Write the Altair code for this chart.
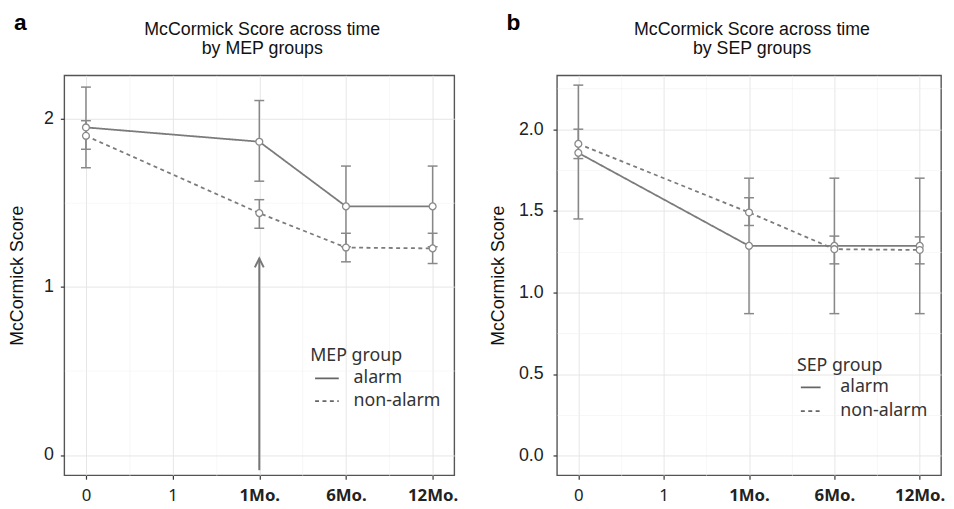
import json
import altair as alt
import pandas as pd

# ---------------- data ----------------
time_labels = ["0", "1", "1Mo.", "6Mo.", "12Mo."]
measured_times = ["0", "1Mo.", "6Mo.", "12Mo."]
groups = ["alarm", "non-alarm"]

# Panel a: MEP groups
mep_alarm_mean = [1.95, 1.865, 1.48, 1.48]
mep_alarm_lo = [1.71, 1.63, 1.24, 1.24]
mep_alarm_hi = [2.19, 2.11, 1.72, 1.72]
mep_non_mean = [1.90, 1.44, 1.235, 1.23]
mep_non_lo = [1.82, 1.35, 1.15, 1.14]
mep_non_hi = [1.99, 1.52, 1.32, 1.32]

# Panel b: SEP groups
sep_alarm_mean = [1.855, 1.285, 1.285, 1.285]
sep_alarm_lo = [1.45, 0.87, 0.87, 0.87]
sep_alarm_hi = [2.27, 1.70, 1.70, 1.70]
sep_non_mean = [1.91, 1.49, 1.265, 1.26]
sep_non_lo = [1.82, 1.41, 1.175, 1.175]
sep_non_hi = [2.00, 1.58, 1.345, 1.34]

# Arrow annotation in panel a
arrow_time = ["1Mo."]
arrow_from = [-0.09]
arrow_to = [1.17]

mep_y_major = [0, 1, 2]
mep_y_minor = [0.5, 1.5]
sep_y_major = [0.0, 0.5, 1.0, 1.5, 2.0]
sep_y_minor = [0.25, 0.75, 1.25, 1.75, 2.25]

# ---------------- helpers ----------------
LINE_COLOR = "#7b7b7b"
BAR_COLOR = "#888888"
SANS = "Liberation Sans"
KFONT = "Noto Sans"


def build_df(alarm, non):
    rows = []
    for g, (m, lo, hi) in zip(groups, [alarm, non]):
        for t, mv, lv, hv in zip(measured_times, m, lo, hi):
            rows.append({"idx": time_labels.index(t), "time": t, "group": g,
                         "mean": mv, "lo": lv, "hi": hv})
    return pd.DataFrame(rows)


def x_axis():
    n = len(time_labels)
    majors = list(range(n))
    minors = [i + 0.5 for i in range(n - 1)]
    bold_idx = [i for i, t in enumerate(time_labels) if "Mo." in t]
    minor_test = f"indexof({json.dumps(minors)}, datum.value) >= 0"
    return alt.Axis(
        values=sorted(majors + minors), title=None, domain=False, grid=True,
        labelExpr=f"{minor_test} ? '' : {json.dumps(time_labels)}[datum.value]",
        labelFont=KFONT, labelFontSize=17, labelColor="#222",
        labelFontWeight={"condition": {"test": f"indexof({json.dumps(bold_idx)}, datum.value) >= 0",
                                       "value": "bold"}, "value": "normal"},
        labelOverlap=False, labelFlush=False, labelPadding=9,
        tickSize=4, tickWidth=1.2,
        tickColor={"condition": {"test": minor_test, "value": "transparent"}, "value": "#333"},
        gridColor={"condition": {"test": minor_test, "value": "#f2f2f2"}, "value": "#e6e6e6"},
        gridWidth={"condition": {"test": minor_test, "value": 0.6}, "value": 1},
    )


def y_axis(major, minor, fmt, label_pad, title_pad):
    minor_test = f"indexof({json.dumps(minor)}, datum.value) >= 0"
    return alt.Axis(
        values=sorted(major + minor), title="McCormick Score", domain=False, grid=True,
        labelExpr=f"{minor_test} ? '' : format(datum.value, '{fmt}')",
        labelFont=SANS, labelFontSize=18, labelColor="#222",
        labelOverlap=False, labelFlush=False, labelPadding=label_pad,
        titleFont=SANS, titleFontSize=18, titleFontWeight="normal", titleColor="#111",
        titlePadding=title_pad,
        tickSize=4, tickWidth=1.2,
        tickColor={"condition": {"test": minor_test, "value": "transparent"}, "value": "#333"},
        gridColor={"condition": {"test": minor_test, "value": "#f2f2f2"}, "value": "#e6e6e6"},
        gridWidth={"condition": {"test": minor_test, "value": 0.6}, "value": 1},
    )


def panel(df, letter, title_lines, legend_title, y_domain, y_major, y_minor, fmt,
          width, height, lx, ly, sym_size, sym_offset, lab_offset, row_pad, ttl_pad,
          label_pad, title_pad, arrow_df=None):
    xscale = alt.Scale(domain=[-0.25, len(time_labels) - 1 + 0.25], nice=False, zero=False)
    yscale = alt.Scale(domain=y_domain, nice=False, zero=False)
    X = alt.X("idx:Q", scale=xscale, axis=x_axis())
    base = alt.Chart(df)

    line = base.mark_line(color=LINE_COLOR, strokeWidth=1.8).encode(
        x=X,
        y=alt.Y("mean:Q", scale=yscale, axis=y_axis(y_major, y_minor, fmt, label_pad, title_pad)),
        strokeDash=alt.StrokeDash(
            "group:N",
            scale=alt.Scale(domain=groups, range=[[1, 0], [4, 3.5]]),
            legend=alt.Legend(
                orient="none", legendX=lx, legendY=ly, title=legend_title,
                symbolType="stroke", symbolStrokeColor="#666", symbolStrokeWidth=1.8,
                symbolSize=sym_size, symbolOffset=sym_offset, labelOffset=lab_offset,
                rowPadding=row_pad, titlePadding=ttl_pad, padding=0,
                labelFont=KFONT, labelFontSize=18, labelColor="#333",
                titleFont=KFONT, titleFontSize=18, titleFontWeight="normal", titleColor="#333",
            ),
        ),
    )
    bars = base.mark_rule(color=BAR_COLOR, strokeWidth=1.5).encode(
        x="idx:Q", y="lo:Q", y2="hi:Q")
    caps = base.transform_fold(["lo", "hi"], as_=["bound", "yv"]).mark_tick(
        orient="horizontal", size=10, thickness=1.5, color=BAR_COLOR, opacity=1).encode(
        x="idx:Q", y="yv:Q")
    pts = base.mark_point(shape="circle", filled=True, fill="white", stroke="#8a8a8a",
                          strokeWidth=1.3, size=48, opacity=1).encode(
        x="idx:Q", y="mean:Q")
    text_df = pd.DataFrame({"letter": [letter]})
    lab = alt.Chart(text_df).mark_text(
        font=SANS, fontSize=23, fontWeight="bold", color="black",
        align="left", baseline="alphabetic").encode(
        text="letter:N", x=alt.value(-51), y=alt.value(-46))
    ttl = alt.Chart(text_df).mark_text(
        text=title_lines, font=SANS, fontSize=18, color="#111", lineHeight=19,
        align="center", baseline="alphabetic").encode(
        x=alt.value(width / 2 + 3), y=alt.value(-41))

    layers = [line, bars, caps]
    if arrow_df is not None:
        shaft = alt.Chart(arrow_df).mark_rule(color="#777", strokeWidth=2).encode(
            x="idx:Q", y="y0:Q", y2="y1:Q")
        head = alt.Chart(arrow_df).mark_point(
            shape="M-1,2L0,0L1,2", size=81, filled=False, stroke="#777",
            strokeWidth=2, opacity=1).encode(x="idx:Q", y="y1:Q")
        layers += [shaft, head]
    layers += [pts, lab, ttl]

    return alt.layer(*layers).properties(width=width, height=height)


mep_df = build_df((mep_alarm_mean, mep_alarm_lo, mep_alarm_hi),
                  (mep_non_mean, mep_non_lo, mep_non_hi))
sep_df = build_df((sep_alarm_mean, sep_alarm_lo, sep_alarm_hi),
                  (sep_non_mean, sep_non_lo, sep_non_hi))
arrow_df = pd.DataFrame({"idx": [time_labels.index(t) for t in arrow_time],
                         "y0": arrow_from, "y1": arrow_to})

pa = panel(mep_df, "a", ["McCormick Score across time", "by MEP groups"], "MEP group",
           [-0.12, 2.26], mep_y_major, mep_y_minor, "d",
           395, 405, 249, 275, 576, 4, 14, 1, 1, 7, 17, arrow_df=arrow_df)
pb = panel(sep_df, "b", ["McCormick Score across time", "by SEP groups"], "SEP group",
           [-0.12, 2.33], sep_y_major, sep_y_minor, ".1f",
           389, 405, 243, 285, 400, 3, 19, 4, 2, 10, 11)

chart = alt.hconcat(pa, pb, spacing=30).resolve_scale(
    strokeDash="independent"
).resolve_legend(
    strokeDash="independent"
).properties(
    padding={"left": 0, "top": 0, "right": 0, "bottom": 0}
).configure_view(stroke="#555", strokeWidth=1.4)

chart.save("out.html", embed_options={"renderer": "svg", "actions": False})
